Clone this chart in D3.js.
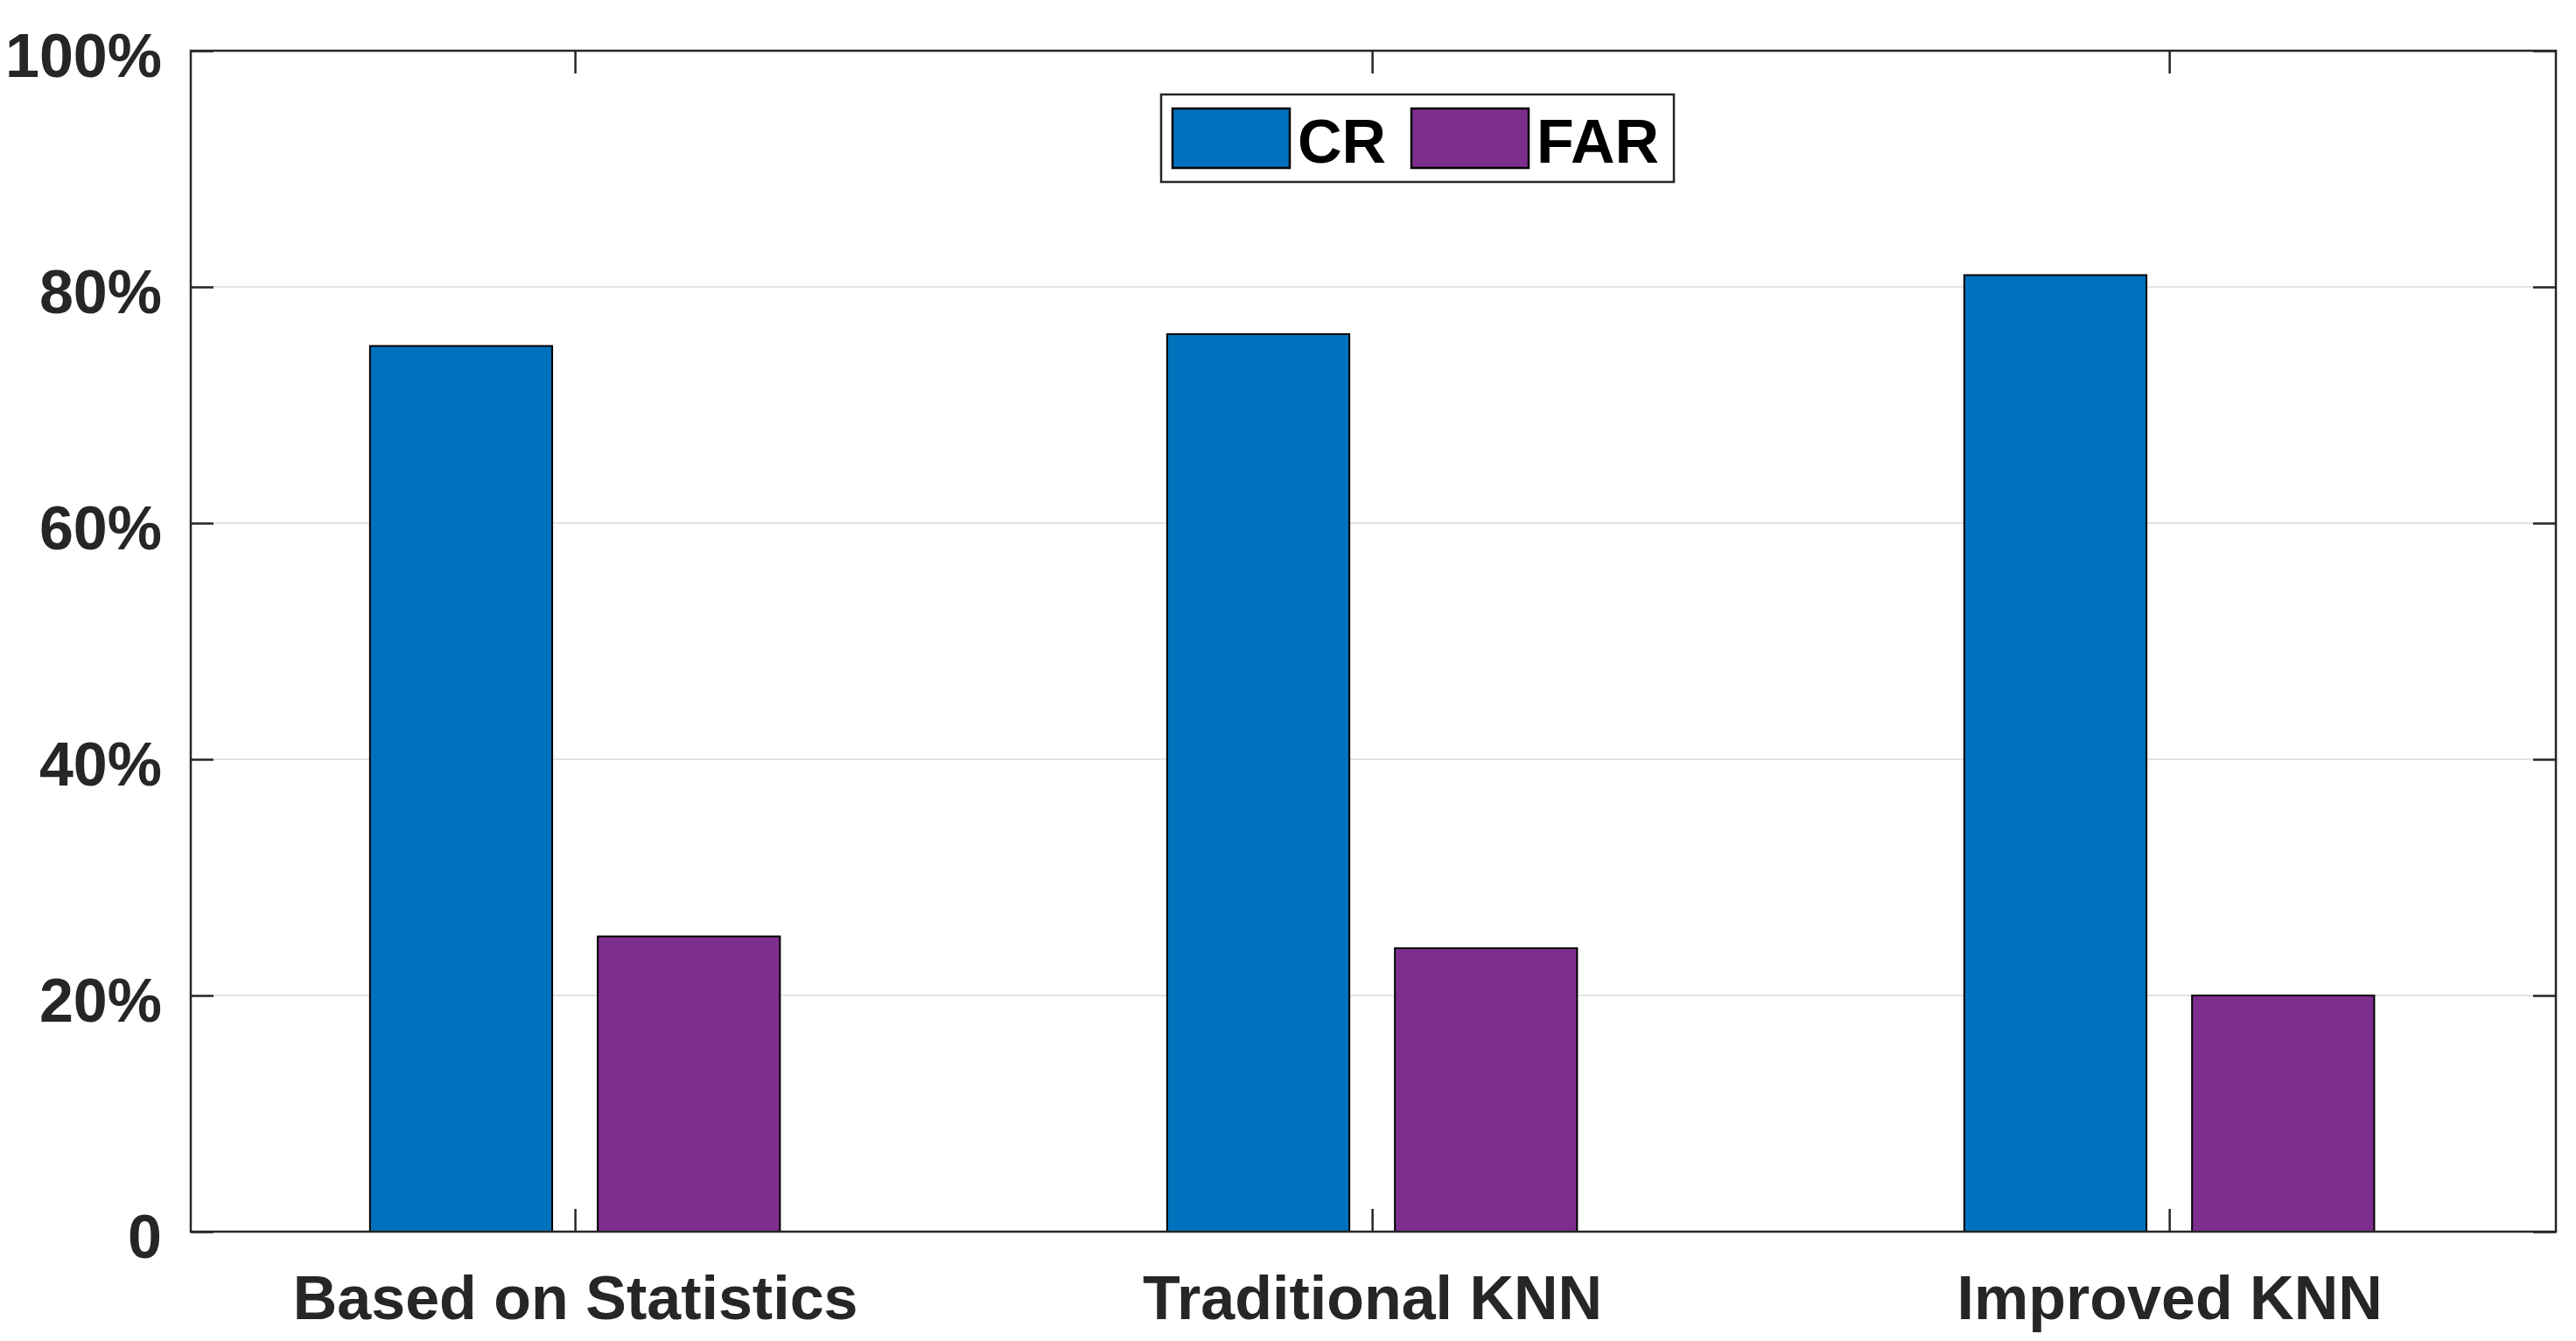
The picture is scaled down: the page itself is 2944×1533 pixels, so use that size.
<!DOCTYPE html>
<html><head><meta charset="utf-8">
<script src="https://cdn.jsdelivr.net/npm/d3@7"></script>
<style>html,body{margin:0;padding:0;background:#fff;}</style>
</head><body>
<svg id="chart" width="2944" height="1533"></svg>
<script>
const categories = ["Based on Statistics", "Traditional KNN", "Improved KNN"];
const seriesNames = ["CR", "FAR"];
const crValues = [75, 76, 81];
const farValues = [25, 24, 20];
const yTicks = [0, 20, 40, 60, 80, 100];
const yTickLabels = ["0", "20%", "40%", "60%", "80%", "100%"];
const colors = ["#0072BD", "#7E2F8E"];

const W = 2944, H = 1533;
const L = 218, R = 2921, T = 58, B = 1408;
const ink = "#262626";
const font = "'Liberation Sans', Arial, Helvetica, sans-serif";
const fs = 70;

const svg = d3.select("#chart");
svg.append("rect").attr("width", W).attr("height", H).attr("fill", "#fff");

const x = d3.scaleLinear().domain([0.518, 3.485]).range([L, R]);
const y = d3.scaleLinear().domain([0, 100]).range([B, T]);

// gridlines
svg.append("g").selectAll("line").data(yTicks.filter(v => v > 0 && v < 100)).join("line")
  .attr("x1", L).attr("x2", R).attr("y1", d => y(d)).attr("y2", d => y(d))
  .attr("stroke", "#e3e3e3").attr("stroke-width", 2);

// bars
const series = [crValues, farValues];
const groupWidth = Math.min(0.8, 2 / (2 + 1.5));
const barW = groupWidth / 2 * 0.8;
const offsets = [-groupWidth / 4, groupWidth / 4];
series.forEach((vals, si) => {
  svg.append("g").selectAll("rect").data(vals).join("rect")
    .attr("x", (d, i) => x(i + 1 + offsets[si] - barW / 2))
    .attr("width", (d, i) => x(i + 1 + offsets[si] + barW / 2) - x(i + 1 + offsets[si] - barW / 2))
    .attr("y", d => y(d))
    .attr("height", d => y(0) - y(d))
    .attr("fill", colors[si])
    .attr("stroke", "#000").attr("stroke-width", 2);
});

const idx = categories.map((c, i) => i + 1);
function styleAxis(g) {
  g.select(".domain").remove();
  g.selectAll(".tick line").attr("stroke", ink).attr("stroke-width", 2.5);
  g.selectAll("text").attr("fill", ink).attr("font-family", font)
    .attr("font-size", fs).attr("font-weight", "bold");
}
// bottom axis
svg.append("g").attr("transform", `translate(0,${B})`)
  .call(d3.axisBottom(x).tickValues(idx).tickFormat((d, i) => categories[i]).tickSize(-26).tickPadding(50))
  .call(styleAxis);
// top axis
svg.append("g").attr("transform", `translate(0,${T})`)
  .call(d3.axisTop(x).tickValues(idx).tickFormat("").tickSize(-26))
  .call(styleAxis);
// left axis
svg.append("g").attr("transform", `translate(${L},0)`)
  .call(d3.axisLeft(y).tickValues(yTicks).tickFormat((d, i) => yTickLabels[i]).tickSize(-26).tickPadding(33))
  .call(styleAxis)
  .selectAll("text").attr("dy", "0.42em");
// right axis
svg.append("g").attr("transform", `translate(${R},0)`)
  .call(d3.axisRight(y).tickValues(yTicks).tickFormat("").tickSize(-26))
  .call(styleAxis);

// box
svg.append("rect").attr("x", L).attr("y", T).attr("width", R - L).attr("height", B - T)
  .attr("fill", "none").attr("stroke", ink).attr("stroke-width", 2.5);

// legend
const lg = svg.append("g");
lg.append("rect").attr("x", 1327).attr("y", 108).attr("width", 586).attr("height", 100)
  .attr("fill", "#fff").attr("stroke", ink).attr("stroke-width", 2.5);
const swX = [1340, 1613];
seriesNames.forEach((n, i) => {
  lg.append("rect").attr("x", swX[i]).attr("y", 124).attr("width", 134).attr("height", 68)
    .attr("fill", colors[i]).attr("stroke", "#000").attr("stroke-width", 2.5);
  lg.append("text").attr("x", swX[i] + 143).attr("y", 186).text(n)
    .attr("fill", "#000").attr("font-family", font).attr("font-size", fs).attr("font-weight", "bold");
});
</script>
</body></html>
